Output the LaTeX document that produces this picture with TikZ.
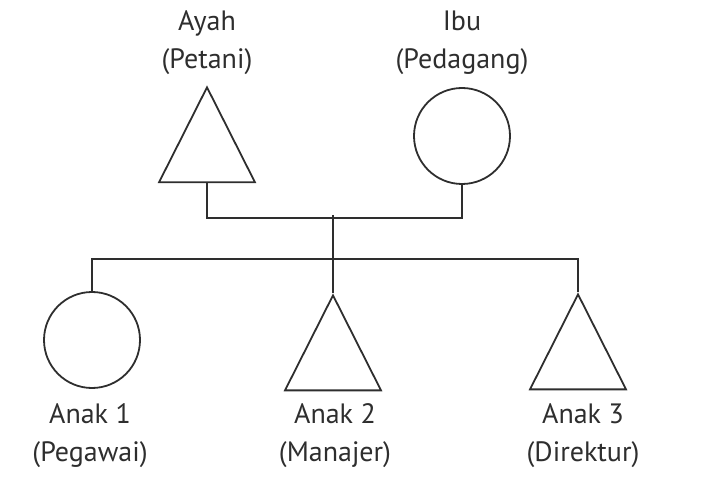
\documentclass[tikz,border=0pt]{standalone}
\usepackage{fontspec}
\setmainfont{PT Sans}
\usetikzlibrary{shapes.geometric}

\definecolor{garis}{HTML}{2E2E2E}

\begin{document}
\begin{tikzpicture}[x=1pt,y=1pt,line width=1.8pt,draw=garis,
    laki/.style={isosceles triangle,isosceles triangle stretches,shape border rotate=90,
        minimum width=96pt,minimum height=95pt,inner sep=0pt,draw=garis},
    perempuan/.style={circle,minimum size=96pt,inner sep=0pt,draw=garis},
    nama/.style={align=center,text=garis,font=\fontsize{28}{38}\selectfont}]
    \useasboundingbox (0,0) rectangle (711,490);

    % 绘制父母
    \node[laki,anchor=apex] (ayah) at (207,405) {};
    \node[perempuan] (ibu) at (462,354) {};
    \node[nama] (lblayah) at (207,447) {Ayah\\(Petani)};
    \node[nama] (lblibu) at (462,447) {Ibu\\(Pedagang)};

    % 绘制子女
    \node[perempuan] (anak1) at (92,150) {};
    \node[laki,anchor=apex] (anak2) at (333,197) {};
    \node[laki,anchor=apex] (anak3) at (578,198) {};
    \node[nama] (lblanak1) at (90,54) {Anak 1\\(Pegawai)};
    \node[nama] (lblanak2) at (335,54) {Anak 2\\(Manajer)};
    \node[nama] (lblanak3) at (583,54) {Anak 3\\(Direktur)};

    % 绘制连接线
    \coordinate (nikah) at (333,275);
    \draw (ayah.lower side) -- ++(0,-35) -| (ibu.south);
    \draw (nikah) -- (anak2.apex);
    \draw (anak1.north) -- ++(0,32) -| (anak3.apex);

\end{tikzpicture}
\end{document}
